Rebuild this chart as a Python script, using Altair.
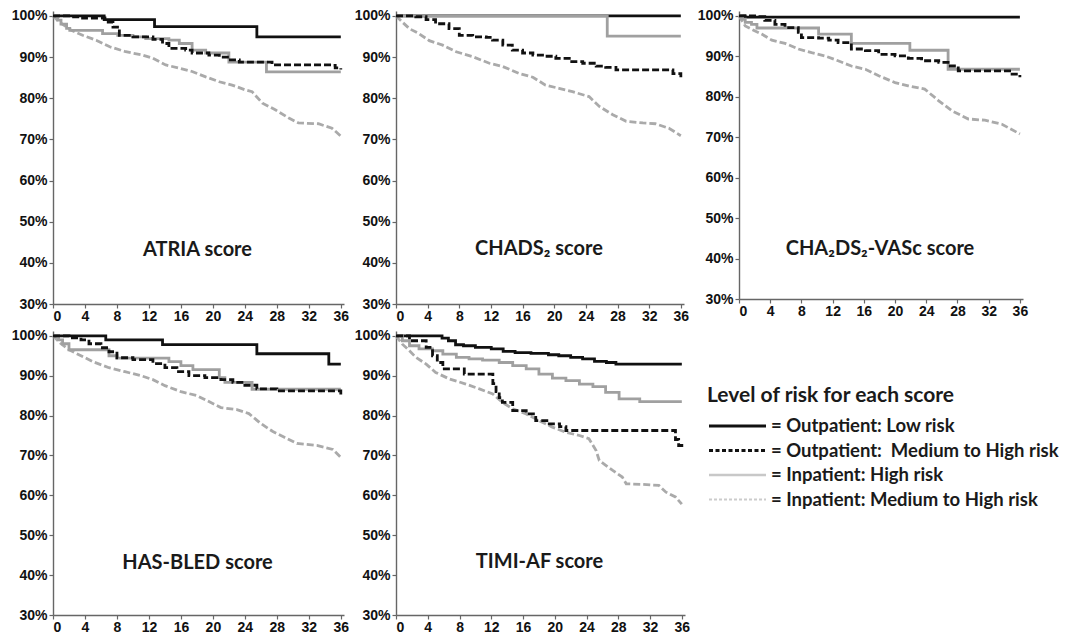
import altair as alt
import pandas as pd

# ---------------- data (months, % event-free) ----------------
SERIES = ["Outpatient: Low risk", "Outpatient: Medium to High risk",
          "Inpatient: High risk", "Inpatient: Medium to High risk"]
LEGEND_TEXT = ["= Outpatient: Low risk", "= Outpatient:\u00a0 Medium to High risk",
               "= Inpatient: High risk", "= Inpatient: Medium to High risk"]
LEGEND_TITLE = "Level of risk for each score"
PANELS = ["ATRIA score", "CHADS\u2082 score", "CHA\u2082DS\u2082-VASc score",
          "HAS-BLED score", "TIMI-AF score"]
X_TICKS = [0, 4, 8, 12, 16, 20, 24, 28, 32, 36]
Y_TICKS = [30, 40, 50, 60, 70, 80, 90, 100]

# ATRIA
atria_low_t = [0, 6.4, 12.7, 25.5, 36]
atria_low_s = [100, 99.1, 97.4, 94.9, 94.9]
atria_omh_t = [0, 2.3, 3.7, 6.5, 7.5, 8.3, 10, 12.5, 13.7, 14.5, 16.6, 17.4, 19.5, 20.8, 22, 23.3, 27, 27.4, 34.9, 35.3, 36]
atria_omh_s = [100, 99.8, 99.5, 98.5, 97.3, 95.3, 94.9, 94.3, 93.3, 92.1, 91.7, 91, 90.5, 90, 89.3, 88.8, 88.8, 88.1, 88.0, 87.4, 87.0]
atria_ih_t = [0, 0.6, 1, 1.7, 2.1, 6.2, 8.1, 10, 11.6, 14.5, 15.8, 17.4, 19.1, 22, 26.7, 36]
atria_ih_s = [100, 99, 98, 97, 96.5, 95.7, 95.3, 94.9, 94.5, 94.1, 93.3, 91.7, 91, 88.8, 86.4, 86.4]
atria_imh_t = [0, 0.8, 1.7, 2.3, 3.7, 5.4, 7.1, 9.1, 11.2, 12.5, 14.1, 15.8, 17.4, 19.1, 20.8, 22.4, 24.1, 24.9, 26.2, 27.8, 29.5, 30.7, 33.2, 34.9, 36]
atria_imh_s = [100, 98.5, 97.3, 96.5, 95.3, 94.1, 92.5, 91.3, 90.5, 89.7, 88.1, 87.3, 86.5, 85.2, 84, 83.2, 82, 81.6, 78.8, 77.2, 75.2, 74, 73.8, 72.7, 70.8]

# CHADS2
chads_low_t = [0, 36]
chads_low_s = [100, 100]
chads_omh_t = [0, 2.5, 3.8, 5, 6.7, 8, 9.7, 11.4, 12.2, 13.5, 14.7, 16, 17.3, 18.9, 20.2, 21.9, 23.6, 25.3, 26.5, 27.8, 34.5, 35, 36]
chads_omh_s = [100, 99.8, 99.1, 98.1, 96.9, 95.3, 94.9, 94.8, 94.1, 92.9, 91.7, 91, 90.5, 90.2, 89.7, 88.9, 88.5, 87.8, 87.5, 86.9, 86.9, 86, 85.1]
chads_ih_t = [0, 26.7, 36]
chads_ih_s = [100, 95.1, 95.1]
chads_imh_t = [0, 0.8, 1.7, 2.9, 4.2, 5.9, 7.6, 9.7, 11.8, 13.5, 15.6, 17.3, 18.9, 20.6, 22.3, 24.4, 25.7, 27.4, 29.1, 31.2, 32.8, 34.5, 36]
chads_imh_s = [100, 98.5, 96.9, 95.7, 94, 92.9, 91.3, 90.1, 88.5, 87.7, 86, 85.1, 83.2, 82.4, 81.6, 80.4, 78, 76, 74.4, 74, 73.8, 72.7, 70.9]

# CHA2DS2-VASc
vasc_low_t = [0, 0.8, 36]
vasc_low_s = [100, 99.7, 99.7]
vasc_omh_t = [0, 2.5, 3.3, 4.6, 5.9, 7.6, 8, 10.2, 11.5, 12.7, 14.4, 16.2, 17.9, 20, 21.7, 23.4, 25.6, 26.8, 28.1, 34.5, 35, 36]
vasc_omh_s = [100, 99.8, 98.9, 97.9, 97.1, 95.9, 94.6, 94.5, 94, 93.4, 91.8, 91.4, 90.5, 90.1, 89.5, 88.9, 88.5, 87.6, 86.4, 86.4, 85.6, 84.8]
vasc_ih_t = [0, 0.3, 0.8, 1.6, 2.3, 10.2, 14.4, 21.9, 26.8, 36]
vasc_ih_s = [100, 99.2, 98.4, 97.9, 97, 95.5, 93.2, 91.5, 86.8, 86.8]
vasc_imh_t = [0, 0.8, 1.6, 2.9, 4.2, 5.9, 7.6, 9.3, 11, 12.7, 14.4, 16.2, 17.9, 20, 21.7, 23.8, 25.6, 27.3, 29.4, 31.5, 33.7, 36]
vasc_imh_s = [100, 97.5, 96.7, 95.5, 94, 93.2, 91.8, 90.9, 90.1, 88.9, 87.6, 86.8, 85.2, 83.5, 82.7, 81.9, 79, 76.5, 74.5, 74.2, 73.2, 70.8]

# HAS-BLED
hasb_low_t = [0, 6.6, 13.7, 25.5, 34.5, 36]
hasb_low_s = [100, 99, 97.8, 95.5, 92.9, 92.9]
hasb_omh_t = [0, 2, 3.5, 4.5, 6, 7, 8, 10, 12.5, 14, 15.5, 17, 19, 21, 22.5, 24, 25.5, 28, 35.5, 36]
hasb_omh_s = [100, 99.5, 99, 98, 97, 96, 94.5, 94, 93, 92, 91, 90, 89.5, 89, 88.3, 87.6, 86.7, 86.2, 86.2, 85.3]
hasb_ih_t = [0, 0.7, 1.2, 2, 7, 8, 14.5, 16, 17.5, 20.8, 21.5, 24.9, 36]
hasb_ih_s = [100, 99, 98, 96.5, 95, 94.4, 93.5, 92.5, 91.5, 89.5, 88.3, 86.6, 86.6]
hasb_imh_t = [0, 1, 2, 3.5, 5, 7, 9, 11, 12.5, 14, 16, 18, 19.5, 21, 23, 24.5, 26, 27.5, 29, 30.5, 33, 35, 36]
hasb_imh_s = [100, 98, 96.5, 95, 93.5, 92, 91, 90, 89, 87.5, 86, 85, 83.5, 82, 81.5, 80.5, 78, 76, 74.5, 73, 72.5, 71.5, 69.5]

# TIMI-AF
timi_low_t = [0, 5.8, 6.6, 7.5, 8.5, 10, 12, 13.5, 15, 17, 19.2, 20.5, 22, 23.5, 25, 26.5, 27.7, 36]
timi_low_s = [100, 99.4, 98.75, 97.75, 97.5, 97.1, 96.7, 96.1, 95.8, 95.6, 95.25, 95, 94.6, 94.2, 93.6, 93.3, 92.9, 92.9]
timi_omh_t = [0, 1.7, 3.8, 4.6, 5.2, 5.9, 8.6, 12.2, 12.6, 13, 13.4, 14.7, 16.4, 17.6, 19.3, 20.6, 21.4, 35.2, 35.6, 36]
timi_omh_s = [100, 98.75, 97.1, 95, 93.3, 91.7, 90.4, 88, 86, 84.5, 83.3, 81.25, 80.4, 78.75, 77.9, 77.25, 76.25, 74, 72.5, 71.5]
timi_ih_t = [0, 0.8, 1.7, 2.9, 4.6, 5.9, 7.6, 9.2, 10.9, 13, 14.7, 16.4, 18, 19.7, 21.4, 23.1, 24.8, 26.4, 28.1, 30.7, 36]
timi_ih_s = [100, 98.75, 97.5, 96.7, 96.25, 95.4, 94.6, 94.2, 93.9, 93.3, 92.5, 91.7, 90.4, 89.4, 88.75, 87.9, 87.25, 85.8, 84.2, 83.5, 83.5]
timi_imh_t = [0, 0.8, 1.7, 2.5, 3.8, 5, 6.7, 8.8, 10.5, 12.2, 13.4, 14.7, 16.4, 18, 19.7, 21.4, 23.1, 24.3, 25.2, 25.6, 27.3, 28.5, 29, 31, 33.1, 34, 35.2, 36]
timi_imh_s = [100, 97.9, 96.25, 94.6, 92.9, 90.8, 89.2, 87.9, 86.7, 85.4, 83.3, 81.7, 80.4, 78.75, 77.1, 75.8, 75, 74.2, 71.25, 68.75, 66.25, 64.6, 62.9, 62.75, 62.5, 60.8, 59.6, 57.8]

CURVES = {
    PANELS[0]: [(atria_low_t, atria_low_s), (atria_omh_t, atria_omh_s), (atria_ih_t, atria_ih_s), (atria_imh_t, atria_imh_s)],
    PANELS[1]: [(chads_low_t, chads_low_s), (chads_omh_t, chads_omh_s), (chads_ih_t, chads_ih_s), (chads_imh_t, chads_imh_s)],
    PANELS[2]: [(vasc_low_t, vasc_low_s), (vasc_omh_t, vasc_omh_s), (vasc_ih_t, vasc_ih_s), (vasc_imh_t, vasc_imh_s)],
    PANELS[3]: [(hasb_low_t, hasb_low_s), (hasb_omh_t, hasb_omh_s), (hasb_ih_t, hasb_ih_s), (hasb_imh_t, hasb_imh_s)],
    PANELS[4]: [(timi_low_t, timi_low_s), (timi_omh_t, timi_omh_s), (timi_ih_t, timi_ih_s), (timi_imh_t, timi_imh_s)],
}

# ---------------- styles ----------------
STYLE = {
    SERIES[0]: dict(color="#111111", strokeWidth=2.8, interpolate="step-after"),
    SERIES[1]: dict(color="#111111", strokeWidth=2.8, strokeDash=[7, 3], interpolate="step-after"),
    SERIES[2]: dict(color="#a0a0a0", strokeWidth=2.8, interpolate="step-after"),
    SERIES[3]: dict(color="#aaaaaa", strokeWidth=2.8, strokeDash=[7, 3], interpolate="linear"),
}
LEG_STYLE = {
    SERIES[0]: dict(color="#111111", strokeWidth=2.8),
    SERIES[1]: dict(color="#111111", strokeWidth=2.8, strokeDash=[4, 2.5]),
    SERIES[2]: dict(color="#c8c8c8", strokeWidth=2.4),
    SERIES[3]: dict(color="#cccccc", strokeWidth=1.8, strokeDash=[3, 2]),
}
DRAW_ORDER = [3, 0, 2, 1]

AX = dict(domainColor="#666666", tickColor="#666666", domainWidth=1.4, tickWidth=1.2,
          tickSize=4, labelFont="Liberation Sans", labelFontWeight="bold",
          labelFontSize=14, labelColor="#111111", grid=False, title=None)


def panel(name, w, h, ytop, title_y, legend=False):
    layers = []
    for i in DRAW_ORDER:
        t, s = CURVES[name][i]
        df = pd.DataFrame({"t": t, "s": s, "series": SERIES[i]})
        layers.append(
            alt.Chart(df).mark_line(**STYLE[SERIES[i]]).encode(
                x=alt.X("t:Q", scale=alt.Scale(domain=[0, 36.4], nice=False, zero=False),
                        axis=alt.Axis(values=X_TICKS, labelPadding=1, **AX)),
                y=alt.Y("s:Q", scale=alt.Scale(domain=[30, ytop], nice=False, zero=False),
                        axis=alt.Axis(values=Y_TICKS, labelExpr="datum.value + '%'",
                                      labelPadding=2, **AX)),
            )
        )
    layers.append(
        alt.Chart(pd.DataFrame({"label": [name]})).mark_text(
            font="Lato", fontWeight="bold", fontSize=20, color="#1a1a1a", baseline="middle"
        ).encode(text="label:N", x=alt.value(w / 2 - 1), y=alt.value(title_y))
    )
    if legend:
        layers.append(
            alt.Chart(pd.DataFrame({"label": [LEGEND_TITLE]})).mark_text(
                font="Lato", fontWeight="bold", fontSize=21, color="#1a1a1a",
                align="left", baseline="middle"
            ).encode(text="label:N", x=alt.value(311), y=alt.value(65))
        )
        for k in range(4):
            yk = 95 + 24.5 * k
            ldf = pd.DataFrame({"series": [SERIES[k]], "label": [LEGEND_TEXT[k]]})
            layers.append(
                alt.Chart(ldf).mark_rule(**LEG_STYLE[SERIES[k]]).encode(
                    x=alt.value(313), x2=alt.value(370), y=alt.value(yk))
            )
            layers.append(
                alt.Chart(ldf).mark_text(
                    font="Lato", fontWeight="bold", fontSize=18.5, color="#1a1a1a",
                    align="left", baseline="middle"
                ).encode(text="label:N", x=alt.value(375), y=alt.value(yk))
            )
    return alt.layer(*layers).properties(width=w, height=h)


p1 = panel(PANELS[0], 291, 293, 101.2, 239)
p2 = panel(PANELS[1], 288, 293, 101.2, 238)
p3 = panel(PANELS[2], 284, 288, 101.2, 238)
p4 = panel(PANELS[3], 291, 284, 101.2, 232)
p5 = panel(PANELS[4], 289, 284, 101.2, 231, legend=True)

row1 = alt.hconcat(alt.hconcat(p1, p2, spacing=5), p3, spacing=8)
row2 = alt.hconcat(p4, p5, spacing=5)

chart = (
    alt.vconcat(row1, row2, spacing=5)
    .properties(padding={"left": 3, "top": 0, "right": 0, "bottom": 0}, background="white")
    .configure_view(stroke=None)
)

chart.save("out.html", embed_options={"renderer": "svg", "actions": False})
